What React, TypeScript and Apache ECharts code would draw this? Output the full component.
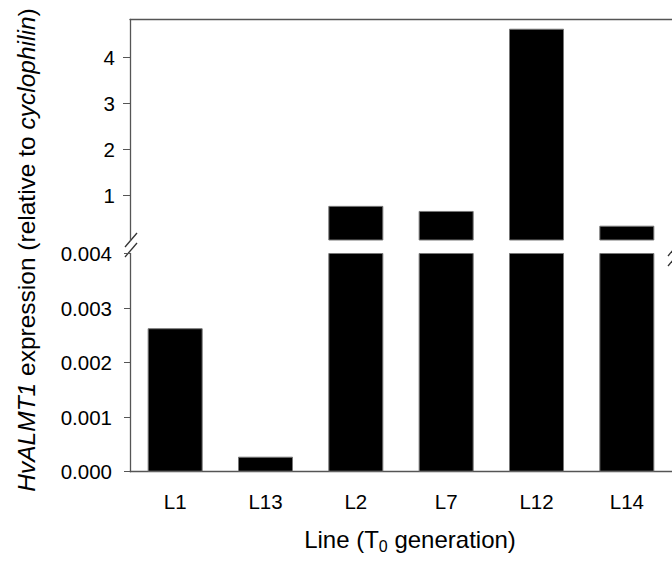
import React, { useEffect, useRef } from "react";
import * as echarts from "echarts";

const categories = ["L1", "L13", "L2", "L7", "L12", "L14"];
const expression = [0.00263, 0.000275, 0.78, 0.67, 4.62, 0.35];
const upperTicks = [1, 2, 3, 4];
const lowerMin = 0;
const lowerMax = 0.004;
const lowerInterval = 0.001;
const upperMin = 0.04;
const upperMax = 4.82;

const FONT = "Liberation Sans, Arial, sans-serif";
const AXIS = "#555";

export default function App() {
  const ref = useRef<HTMLDivElement>(null);
  useEffect(() => {
    if (!ref.current) return;
    const chart = echarts.init(ref.current, undefined, { renderer: "svg" });
    const barStyle = { color: "#000", borderColor: "#777", borderWidth: 1 };
    chart.setOption({
      animation: false,
      textStyle: { fontFamily: FONT },
      grid: [
        { left: 130, top: 19.5, width: 545, height: 220.5 },
        { left: 130, top: 253.5, width: 545, height: 218.2 },
      ],
      xAxis: [
        {
          type: "category",
          gridIndex: 0,
          data: categories,
          position: "top",
          axisLine: { lineStyle: { color: AXIS, width: 1.3 } },
          axisTick: { show: false },
          axisLabel: { show: false },
        },
        {
          type: "category",
          gridIndex: 1,
          data: categories,
          axisLine: { lineStyle: { color: AXIS, width: 1.3 } },
          axisTick: { alignWithLabel: true, length: 5, lineStyle: { color: AXIS } },
          axisLabel: { color: "#000", fontSize: 20.5, fontFamily: FONT, margin: 19 },
        },
      ],
      yAxis: [
        {
          type: "value",
          gridIndex: 0,
          min: upperMin,
          max: upperMax,
          splitLine: { show: false },
          axisLine: { show: true, lineStyle: { color: AXIS, width: 1.3 } },
          axisTick: { show: true, length: 7, customValues: upperTicks, lineStyle: { color: AXIS } },
          axisLabel: {
            customValues: upperTicks,
            color: "#000",
            fontSize: 20.5,
            fontFamily: FONT,
            margin: 15,
          },
        },
        {
          type: "value",
          gridIndex: 1,
          min: lowerMin,
          max: lowerMax,
          interval: lowerInterval,
          splitLine: { show: false },
          axisLine: { show: true, lineStyle: { color: AXIS, width: 1.3 } },
          axisTick: { show: true, length: 6, lineStyle: { color: AXIS } },
          axisLabel: {
            color: "#000",
            fontSize: 20.5,
            fontFamily: FONT,
            margin: 18,
            formatter: (v: number) => v.toFixed(3),
          },
        },
      ],
      series: [
        {
          type: "bar",
          xAxisIndex: 0,
          yAxisIndex: 0,
          barWidth: 55,
          data: expression.map((v) => (v > upperMin ? v : null)),
          itemStyle: barStyle,
          clip: true,
        },
        {
          type: "bar",
          xAxisIndex: 1,
          yAxisIndex: 1,
          barWidth: 55,
          data: expression,
          itemStyle: barStyle,
          clip: true,
        },
      ],
      graphic: [
        { type: "line", shape: { x1: 125, y1: 247, x2: 137, y2: 233 }, style: { stroke: "#333", lineWidth: 1.3 } },
        { type: "line", shape: { x1: 125, y1: 257, x2: 137, y2: 243 }, style: { stroke: "#333", lineWidth: 1.3 } },
        { type: "line", shape: { x1: 668, y1: 256, x2: 680, y2: 242 }, style: { stroke: "#333", lineWidth: 1.3 } },
        { type: "line", shape: { x1: 668, y1: 266, x2: 680, y2: 252 }, style: { stroke: "#333", lineWidth: 1.3 } },
        {
          type: "text",
          x: 26,
          y: 250,
          rotation: Math.PI / 2,
          style: {
            text: "{i|HvALMT1} expression (relative to {i|cyclophilin})",
            fontSize: 24.5,
            fontFamily: FONT,
            fill: "#000",
            align: "center",
            verticalAlign: "middle",
            rich: {
              i: { fontStyle: "italic", fontSize: 24.5, fontFamily: FONT, fill: "#000" },
            },
          },
        },
        {
          type: "text",
          x: 410,
          y: 541,
          style: {
            text: "{a|Line (T}{s|0}{a| generation)}",
            fontFamily: FONT,
            fill: "#000",
            align: "center",
            verticalAlign: "middle",
            rich: {
              a: { fontSize: 24, fontFamily: FONT, verticalAlign: "top", fill: "#000" },
              s: { fontSize: 16, fontFamily: FONT, verticalAlign: "top", padding: [11, 0, 0, 0], fill: "#000" },
            },
          },
        },
      ],
    });
    return () => chart.dispose();
  }, []);
  return (
    <div
      ref={ref}
      style={{ position: "fixed", left: 0, top: 0, width: 672, height: 563, background: "#fff" }}
    />
  );
}
